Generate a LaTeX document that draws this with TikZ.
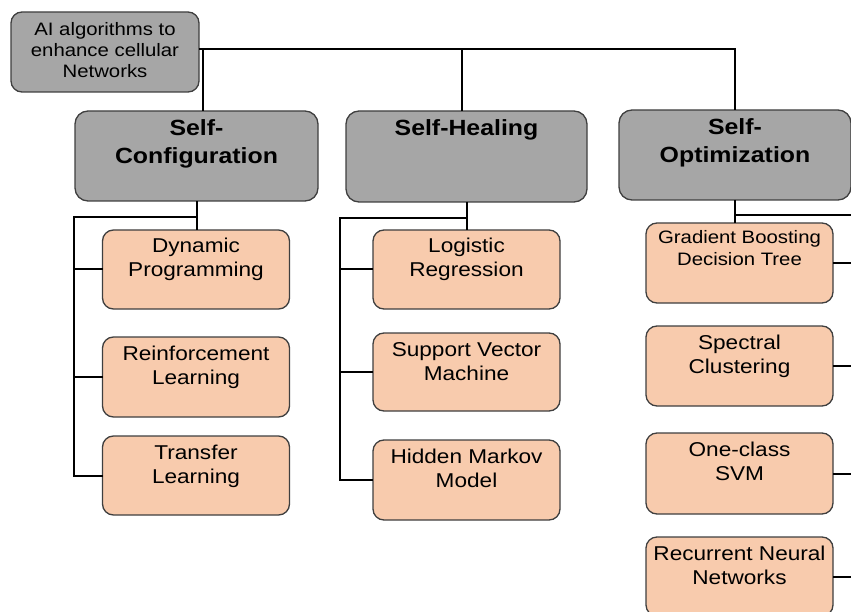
\documentclass[tikz,border=0pt]{standalone}
\usepackage{fontspec}
\setmainfont{Liberation Sans}[FakeStretch=1.13]
\definecolor{boxgray}{HTML}{A6A6A6}
\definecolor{boxorange}{HTML}{F8CBAD}
\definecolor{boxedge}{HTML}{3F3F3F}
\newcommand\tb[4]{\parbox[c][#1][t]{#2}{\centering\rule{0pt}{#3}#4\par}}
\tikzset{
  basebox/.style={draw=boxedge, line width=1.3pt, inner sep=0pt, outer sep=0pt},
  rootbox/.style={basebox, fill=boxgray, rounded corners=11pt, minimum width=188pt, minimum height=80pt, font=\fontsize{18}{21}\selectfont},
  headbox/.style={basebox, fill=boxgray, rounded corners=13pt, minimum height=90pt, font=\bfseries\fontsize{22}{28}\selectfont},
  childbox/.style={basebox, fill=boxorange, rounded corners=11pt, minimum width=187pt, minimum height=79pt, font=\fontsize{20}{24}\selectfont},
  conn/.style={draw=black, line width=2pt}
}
\begin{document}
\begin{tikzpicture}[x=1pt,y=-1pt]
\useasboundingbox (0,0) rectangle (851,612);
% connectors first (behind boxes)
\coordinate (bus) at (199,49);
\coordinate (scj) at (196.5,217);
\coordinate (scl) at (74,217);
\coordinate (shj) at (466.5,218);
\coordinate (shl) at (340,218);
\coordinate (soj) at (735,215);
\coordinate (sor) at (853,215);

\node[rootbox] (root) at (105,52) {\tb{80pt}{180pt}{24pt}{AI algorithms to\\enhance cellular\\Networks}};
\node[headbox, minimum width=243pt] (SC) at (196.5,156) {\tb{90pt}{235pt}{25pt}{Self-\\Configuration}};
\node[headbox, minimum width=241pt, minimum height=91pt] (SH) at (466.5,156.5) {\tb{91pt}{235pt}{25pt}{Self-Healing}};
\node[headbox, minimum width=232pt] (SO) at (735,155) {\tb{90pt}{225pt}{25pt}{Self-\\Optimization}};

\node[childbox] (DP) at (196,269.5) {\tb{79pt}{180pt}{23pt}{Dynamic\\Programming}};
\node[childbox, minimum height=80pt] (RL) at (196,377) {\tb{80pt}{180pt}{23pt}{Reinforcement\\Learning}};
\node[childbox] (TL) at (196,475.5) {\tb{79pt}{180pt}{23pt}{Transfer\\Learning}};

\node[childbox] (LR) at (466.5,269.5) {\tb{79pt}{180pt}{23pt}{Logistic\\Regression}};
\node[childbox, minimum height=78pt] (SVM) at (466.5,372) {\tb{78pt}{180pt}{23pt}{Support Vector\\Machine}};
\node[childbox, minimum height=80pt] (HMM) at (466.5,480) {\tb{80pt}{180pt}{23pt}{Hidden Markov\\Model}};

\node[childbox, minimum height=80pt, font=\fontsize{18}{23}\selectfont] (GB) at (739.5,263) {\tb{80pt}{183pt}{20pt}{Gradient Boosting\\Decision Tree}};
\node[childbox, minimum height=80pt] (SP) at (739.5,366) {\tb{80pt}{180pt}{23pt}{Spectral\\Clustering}};
\node[childbox, minimum height=81pt] (OC) at (739.5,473.5) {\tb{81pt}{180pt}{23pt}{One-class\\SVM}};
\node[childbox] (RN) at (739.5,576.5) {\tb{79pt}{183pt}{23pt}{Recurrent Neural\\Networks}};

% top level
\draw[conn] (root.east |- bus) -| (SO.north);
\draw[conn] ([xshift=6pt]SC.north) -- ([xshift=6pt]SC.north |- bus);
\draw[conn] ([xshift=-5pt]SH.north) -- ([xshift=-5pt]SH.north |- bus);
% self-configuration
\draw[conn] (SC.south) -- (SC.south |- DP.north);
\draw[conn] (scj) -- (scl) |- (TL.west);
\draw[conn] (scl |- DP.west) -- (DP.west);
\draw[conn] (scl |- RL.west) -- (RL.west);
% self-healing
\draw[conn] (SH.south) -- (SH.south |- LR.north);
\draw[conn] (shj) -- (shl) |- (HMM.west);
\draw[conn] (shl |- LR.west) -- (LR.west);
\draw[conn] (shl |- SVM.west) -- (SVM.west);
% self-optimization
\draw[conn] (SO.south) -- (SO.south |- GB.north);
\draw[conn] (soj) -- (sor) -- (sor |- RN.east);
\draw[conn] (GB.east) -- (GB.east -| sor);
\draw[conn] (SP.east) -- (SP.east -| sor);
\draw[conn] (OC.east) -- (OC.east -| sor);
\draw[conn] (RN.east) -- (RN.east -| sor);
\end{tikzpicture}
\end{document}
